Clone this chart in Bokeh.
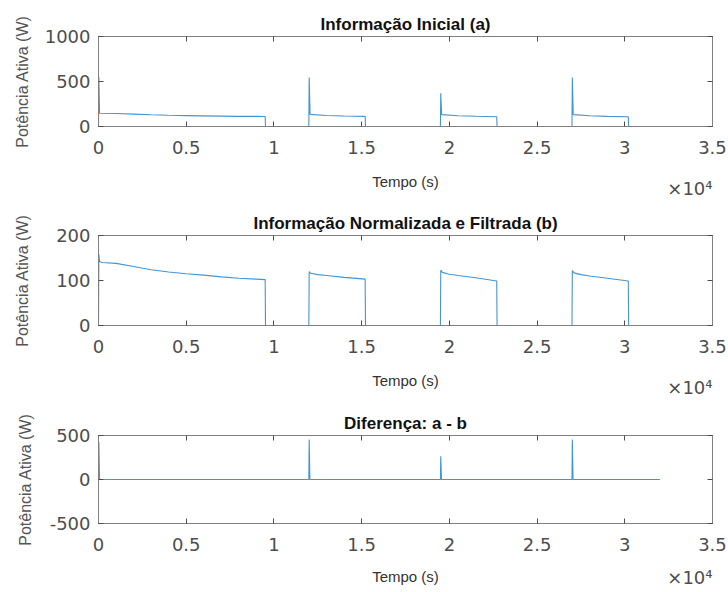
from bokeh.plotting import figure
from bokeh.layouts import column
from bokeh.models import Range1d, FixedTicker, LinearAxis, Title
from bokeh.embed import file_html
from bokeh.resources import INLINE

# ---------------- data ----------------
x_ticks = [0, 5000, 10000, 15000, 20000, 25000, 30000, 35000]
x_tick_labels = ["0", "0.5", "1", "1.5", "2", "2.5", "3", "3.5"]

# (a) Informação Inicial
a_t = [0, 20, 60, 1000, 2000, 3000, 4000, 5000, 6000, 7000, 8000, 9000,
       9500, 9520, 11990, 12010, 12060, 13000, 14000, 15200, 15220,
       19490, 19510, 19560, 20500, 21500, 22700, 22720,
       26990, 27010, 27060, 28000, 29000, 30200, 30220, 32000]
a_v = [0, 550, 148, 145, 138, 130, 125, 121, 118, 115, 113, 112,
       111, 0, 0, 545, 135, 122, 116, 112, 0,
       0, 370, 132, 120, 114, 108, 0,
       0, 545, 132, 120, 113, 108, 0, 0]

# (b) Informação Normalizada e Filtrada
b_t = [0, 20, 60, 200, 1000, 2000, 3000, 4000, 5000, 6000, 7000, 8000, 9000,
       9500, 9520, 11990, 12010, 12100, 12500, 13000, 14000, 15200, 15220,
       19490, 19510, 19600, 20000, 20500, 21500, 22700, 22720,
       26990, 27010, 27100, 27500, 28000, 29000, 30200, 30220, 32000]
b_v = [0, 158, 142, 140, 138, 131, 124, 119, 115, 112, 108, 105, 103,
       102, 0, 0, 120, 116, 113, 111, 107, 103, 0,
       0, 123, 118, 114, 111, 106, 99, 0,
       0, 122, 117, 113, 110, 105, 99, 0, 0]

# Diferença: a - b
d_t = [0, 20, 60, 11990, 12010, 12050, 19490, 19510, 19550,
       26990, 27010, 27050, 32000]
d_v = [0, 430, 0, 0, 455, 0, 0, 265, 0, 0, 455, 0, 0]

titles = ["Informação Inicial (a)", "Informação Normalizada e Filtrada (b)", "Diferença: a - b"]
y_limits = [(0, 1000), (0, 200), (-500, 500)]
y_ticks = [[0, 500, 1000], [0, 100, 200], [-500, 0, 500]]
y_tick_labels = [["0", "500", "1000"], ["0", "100", "200"], ["-500", "0", "500"]]
x_label = "Tempo (s)"
y_label = "Potência Ativa (W)"
exp_label = "×10⁴"

# ---------------- styling ----------------
LINE = "#4494d4"
BOX = "#808080"
TICK = "#4d4d4d"
LABEL = "#4d4d4d"


def style_axis(ax):
    ax.major_tick_in = 5
    ax.major_tick_out = 0
    ax.minor_tick_in = 0
    ax.minor_tick_out = 0
    ax.axis_line_color = BOX
    ax.major_tick_line_color = TICK
    ax.major_label_text_font = "DejaVu Sans"
    ax.major_label_text_font_size = "18px"
    ax.major_label_text_color = LABEL


def make(i, t, v, frame_h, top, bottom, ylab_standoff, xlab_standoff, exp_standoff):
    ymin, ymax = y_limits[i]
    p = figure(frame_width=614, frame_height=frame_h,
               min_border_left=98, min_border_right=16,
               min_border_top=top, min_border_bottom=bottom,
               x_range=Range1d(0, 35000), y_range=Range1d(ymin, ymax),
               output_backend="svg", toolbar_location=None,
               title=titles[i], x_axis_label=x_label, y_axis_label=y_label)
    p.line(t, v, line_color=LINE, line_width=1.1)
    p.grid.visible = False
    p.outline_line_color = BOX
    p.background_fill_color = "white"
    p.border_fill_color = "white"

    p.title.align = "center"
    p.title.text_font = "Liberation Sans"
    p.title.text_font_style = "bold"
    p.title.text_font_size = "17px"
    p.title.text_color = "#111111"
    p.title.standoff = 5

    xt = FixedTicker(ticks=x_ticks)
    yt = FixedTicker(ticks=y_ticks[i])

    xa = p.xaxis[0]
    xa.ticker = xt
    xa.major_label_overrides = {k: s for k, s in zip(x_ticks, x_tick_labels)}
    style_axis(xa)
    xa.major_label_standoff = 14
    xa.axis_label_text_font = "Liberation Sans"
    xa.axis_label_text_font_size = "15px"
    xa.axis_label_text_font_style = "normal"
    xa.axis_label_text_color = "#333333"
    xa.axis_label_standoff = xlab_standoff

    ya = p.yaxis[0]
    ya.ticker = yt
    ya.major_label_overrides = {k: s for k, s in zip(y_ticks[i], y_tick_labels[i])}
    style_axis(ya)
    ya.major_label_standoff = 8
    ya.axis_label_text_font = "Liberation Sans"
    ya.axis_label_text_font_size = "16px"
    ya.axis_label_text_font_style = "normal"
    ya.axis_label_text_color = "#555555"
    ya.axis_label_standoff = ylab_standoff

    right = LinearAxis(ticker=yt)
    style_axis(right)
    right.major_label_overrides = {k: "" for k in y_ticks[i]}
    right.major_label_text_font_size = "1px"
    right.major_label_standoff = 0
    p.add_layout(right, "right")

    above = LinearAxis(ticker=xt)
    style_axis(above)
    above.major_label_overrides = {k: "" for k in x_ticks}
    above.major_label_text_font_size = "1px"
    above.major_label_standoff = 0
    p.add_layout(above, "above")

    exp = Title(text=exp_label, align="right", vertical_align="top",
                text_font="DejaVu Sans",
                text_font_size="18px", text_font_style="normal",
                text_color=LABEL, standoff=exp_standoff)
    p.add_layout(exp, "below")
    return p


p1 = make(0, a_t, a_v, 90, 36, 74, 11, 16, -30)
p2 = make(1, b_t, b_v, 90, 35, 75, 22, 16, -30)
p3 = make(2, d_t, d_v, 88, 35, 69, 13, 14, -42)

layout = column(p1, p2, p3, spacing=0)
open("out.html", "w").write(file_html(layout, INLINE))
